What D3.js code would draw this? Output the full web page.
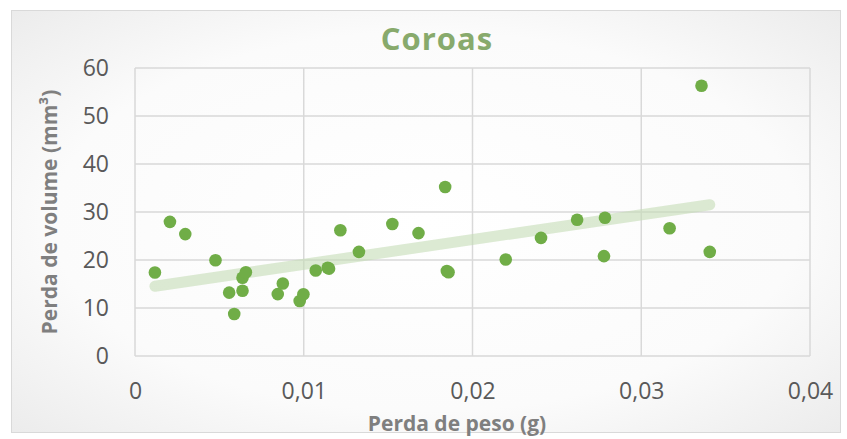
<!DOCTYPE html>
<html>
<head>
<meta charset="utf-8">
<script src="https://cdn.jsdelivr.net/npm/d3@7"></script>
<style>
  body { margin: 0; background: #fff; }
  svg text { font-family: "Open Sans", "Liberation Sans", sans-serif; }
</style>
</head>
<body>
<div class="chart"></div>
<script>
// perda de peso (g)
var pesoValues = [0.00118, 0.00207, 0.00298, 0.00477, 0.00558, 0.00588, 0.00637, 0.00637, 0.00657,
  0.00846, 0.00876, 0.00976, 0.00998, 0.01071, 0.01142, 0.0115, 0.01217, 0.01327, 0.01525,
  0.0168, 0.01838, 0.01848, 0.01858, 0.02197, 0.02406, 0.0262, 0.02785, 0.02779, 0.03168,
  0.03406, 0.03357];
// perda de volume (mm3)
var volumeValues = [17.4, 27.95, 25.4, 19.96, 13.2, 8.75, 13.6, 16.3, 17.45,
  12.9, 15.1, 11.46, 12.86, 17.8, 18.4, 18.2, 26.2, 21.7, 27.5,
  25.6, 35.2, 17.7, 17.45, 20.1, 24.6, 28.4, 28.8, 20.8, 26.6,
  21.7, 56.3];
var xTicks = [0, 0.01, 0.02, 0.03, 0.04];
var yTicks = [0, 10, 20, 30, 40, 50, 60];

var W = 847, H = 439;
var margin = {left: 135, right: 37, top: 68, bottom: 83};

var svg = d3.select(".chart").append("svg").attr("width", W).attr("height", H);

var defs = svg.append("defs");
var grad = defs.append("radialGradient").attr("id", "bg")
  .attr("cx", "50%").attr("cy", "50%").attr("r", "75%");
grad.append("stop").attr("offset", "0%").attr("stop-color", "#ffffff");
grad.append("stop").attr("offset", "60%").attr("stop-color", "#fbfbfb");
grad.append("stop").attr("offset", "100%").attr("stop-color", "#e9e9e9");

svg.append("rect").attr("x", 11.5).attr("y", 10.5).attr("width", 829).attr("height", 422)
  .attr("fill", "url(#bg)").attr("stroke", "#d9d9d9");

var x = d3.scaleLinear().domain([0, 0.04]).range([margin.left, W - margin.right]);
var y = d3.scaleLinear().domain([0, 60]).range([H - margin.bottom, margin.top]);

var fmt = function(d){ return d === 0 ? "0" : d3.format(".2f")(d).replace(".", ","); };

// gridlines
svg.append("g").selectAll("line").data(yTicks).enter().append("line")
  .attr("x1", x(0)).attr("x2", x(0.04))
  .attr("y1", function(d){ return y(d); }).attr("y2", function(d){ return y(d); })
  .attr("stroke", "#d9d9d9").attr("stroke-width", 1.5);
svg.append("g").selectAll("line").data(xTicks).enter().append("line")
  .attr("y1", y(0)).attr("y2", y(60))
  .attr("x1", function(d){ return x(d); }).attr("x2", function(d){ return x(d); })
  .attr("stroke", "#d9d9d9").attr("stroke-width", 1.5);

// axes (labels only)
var xAxis = svg.append("g").attr("transform", "translate(0," + y(0) + ")")
  .call(d3.axisBottom(x).tickValues(xTicks).tickFormat(fmt).tickSize(0).tickPadding(27));
var yAxis = svg.append("g").attr("transform", "translate(" + x(0) + ",0)")
  .call(d3.axisLeft(y).tickValues(yTicks).tickSize(0).tickPadding(26));
[xAxis, yAxis].forEach(function(a){
  a.select(".domain").remove();
  a.selectAll("text").attr("fill", "#595959").style("font-size", "23px")
    .style("font-family", "'Open Sans', sans-serif");
});

// trendline (least squares)
var mx = d3.mean(pesoValues), my = d3.mean(volumeValues);
var sxy = d3.sum(pesoValues, function(v, i){ return (v - mx) * (volumeValues[i] - my); });
var sxx = d3.sum(pesoValues, function(v){ return (v - mx) * (v - mx); });
var slope = sxy / sxx, icpt = my - slope * mx;
var ext = d3.extent(pesoValues);
svg.append("line")
  .attr("x1", x(ext[0])).attr("y1", y(icpt + slope * ext[0]))
  .attr("x2", x(ext[1])).attr("y2", y(icpt + slope * ext[1]))
  .attr("stroke", "#c5dcb5").attr("stroke-opacity", 0.6)
  .attr("stroke-width", 11).attr("stroke-linecap", "round");

// points
svg.append("g").selectAll("circle").data(pesoValues).enter().append("circle")
  .attr("cx", function(d){ return x(d); })
  .attr("cy", function(d, i){ return y(volumeValues[i]); })
  .attr("r", 6.3).attr("fill", "#70ad47");

// title
svg.append("text").attr("x", 437).attr("y", 50).attr("text-anchor", "middle")
  .attr("fill", "#88aa6c").style("font-size", "31px").style("font-weight", "bold")
  .style("letter-spacing", "1px").text("Coroas");

svg.append("text").attr("x", 457).attr("y", 431).attr("text-anchor", "middle")
  .attr("fill", "#7f7f7f").style("font-size", "21px").style("font-weight", "bold")
  .text("Perda de peso (g)");

svg.append("text").attr("transform", "translate(57," + y(30) + ") rotate(-90)")
  .attr("text-anchor", "middle")
  .attr("fill", "#7f7f7f").style("font-size", "21px").style("font-weight", "bold")
  .text("Perda de volume (mm³)");
</script>
</body>
</html>
